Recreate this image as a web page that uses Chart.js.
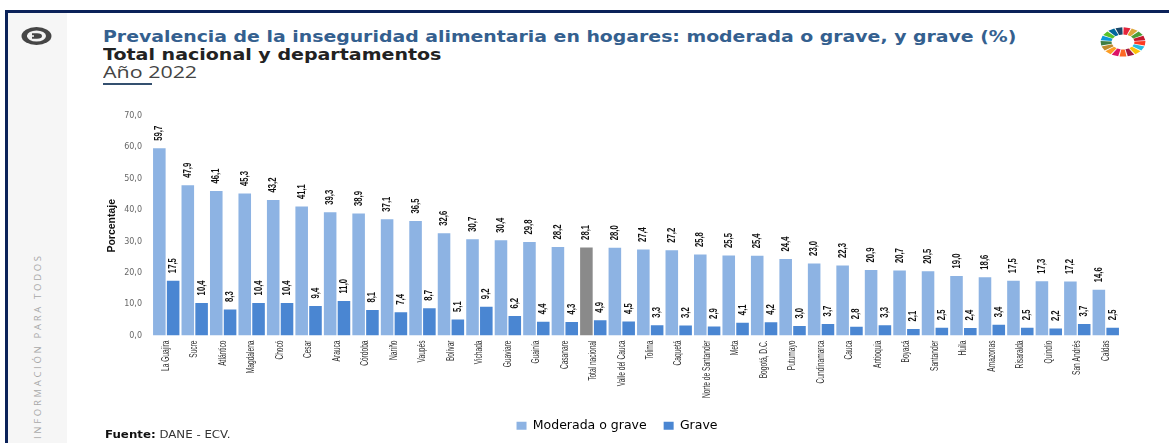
<!DOCTYPE html>
<html lang="es">
<head>
<meta charset="utf-8">
<title>Inseguridad alimentaria 2022</title>
<script src="https://cdn.jsdelivr.net/npm/chart.js@4"></script>
<style>
  html, body { margin: 0; padding: 0; background: #fff; }
  body { position: relative; width: 1169px; height: 443px; overflow: hidden; }
  .abs { position: absolute; white-space: nowrap; }
  .wide { transform-origin: 0 50%; }
  #frameTop { left: 5px; top: 10px; width: 1164px; height: 3px; background: #0b2259; }
  #frameLeft { left: 5px; top: 10px; width: 3px; height: 433px; background: #0b2259; }
  #sidebar { left: 8px; top: 13px; width: 59px; height: 430px; background: #f6f6f6; }
  #logo { left: 21px; top: 27px; }
  #motto { left: 37px; top: 439px; transform-origin: 0 0; transform: rotate(-90deg) translateY(-50%);
    font: 9.5px "Open Sans", sans-serif; letter-spacing: 2.7px; color: #a8a8a8; }
  #title { left: 103px; top: 28px; font: bold 15.6px "DejaVu Sans", sans-serif; color: #34608f; transform: scaleX(1.21); }
  #subtitle { left: 103px; top: 46px; font: bold 15.6px "DejaVu Sans", sans-serif; color: #222; transform: scaleX(1.22); }
  #year { left: 103px; top: 60px; font: 17px "Open Sans", sans-serif; color: #444; transform: scaleX(1.26); }
  #yearLine { left: 103px; top: 83px; width: 49px; height: 2px; background: #34506f; }
  #source { left: 105px; top: 429px; font: 10px "DejaVu Sans", sans-serif; color: #333; transform: scaleX(1.18); }
  #source b { color: #111; }
  #wheel { left: 1100px; top: 27px; }
  #wrap { left: 100px; top: 100px; width: 1034px; height: 342px; }
</style>
</head>
<body>
<div class="abs" id="frameTop"></div>
<div class="abs" id="frameLeft"></div>
<div class="abs" id="sidebar"></div>
<svg class="abs" id="logo" width="31" height="18" viewBox="0 0 31 18">
  <ellipse cx="15.5" cy="9" rx="15" ry="9" fill="#454545"/>
  <ellipse cx="15.5" cy="9" rx="9.5" ry="5.6" fill="#f2f2f2"/>
  <path d="M11 6.2 h5 a5 2.8 0 0 1 0 5.6 h-5 z" fill="#454545"/>
  <path d="M6 9 h7" stroke="#f2f2f2" stroke-width="1.6"/>
</svg>
<div class="abs" id="motto">INFORMACIÓN PARA TODOS</div>
<div class="abs wide" id="title">Prevalencia de la inseguridad alimentaria en hogares: moderada o grave, y grave (%)</div>
<div class="abs wide" id="subtitle">Total nacional y departamentos</div>
<div class="abs wide" id="year">Año 2022</div>
<div class="abs" id="yearLine"></div>
<svg class="abs" id="wheel" width="46" height="30" viewBox="-23 -23 46 46" preserveAspectRatio="none"></svg>
<div class="abs" id="wrap"><canvas id="chart"></canvas></div>
<div class="abs wide" id="source"><b>Fuente:</b> DANE - ECV.</div>

<script>
const categories = ['La Guajira', 'Sucre', 'Atlántico', 'Magdalena', 'Chocó', 'Cesar', 'Arauca', 'Córdoba', 'Nariño', 'Vaupés', 'Bolívar', 'Vichada', 'Guaviare', 'Guainía', 'Casanare', 'Total nacional', 'Valle del Cauca', 'Tolima', 'Caquetá', 'Norte de Santander', 'Meta', 'Bogotá, D.C.', 'Putumayo', 'Cundinamarca', 'Cauca', 'Antioquia', 'Boyacá', 'Santander', 'Huila', 'Amazonas', 'Risaralda', 'Quindío', 'San Andrés', 'Caldas'];
const moderadaGrave = [59.7, 47.9, 46.1, 45.3, 43.2, 41.1, 39.3, 38.9, 37.1, 36.5, 32.6, 30.7, 30.4, 29.8, 28.2, 28.1, 28.0, 27.4, 27.2, 25.8, 25.5, 25.4, 24.4, 23.0, 22.3, 20.9, 20.7, 20.5, 19.0, 18.6, 17.5, 17.3, 17.2, 14.6];
const grave = [17.5, 10.4, 8.3, 10.4, 10.4, 9.4, 11.0, 8.1, 7.4, 8.7, 5.1, 9.2, 6.2, 4.4, 4.3, 4.9, 4.5, 3.3, 3.2, 2.9, 4.1, 4.2, 3.0, 3.7, 2.8, 3.3, 2.1, 2.5, 2.4, 3.4, 2.5, 2.2, 3.7, 2.5];
const wheelColors = ['#e5243b', '#dda63a', '#4c9f38', '#c5192d', '#ff3a21', '#26bde2', '#fcc30b', '#a21942', '#fd6925', '#dd1367', '#fd9d24', '#bf8b2e', '#3f7e44', '#0a97d9', '#56c02b', '#00689d', '#19486a'];

const fmt = v => v.toFixed(1).replace('.', ',');
const LIGHT = '#8db3e3';
const DARK = '#4a86d2';
const TOTAL = '#8a8a8a';
const NARROW = '"Liberation Sans", sans-serif';

// the little SDG wheel, one wedge per colour
const svgNs = 'http://www.w3.org/2000/svg';
const wheel = document.getElementById('wheel');
wheelColors.forEach((c, i) => {
  const step = 2 * Math.PI / wheelColors.length;
  const a0 = i * step - Math.PI / 2 + 0.03, a1 = a0 + step - 0.06;
  const pt = (r, a) => `${(r * Math.cos(a)).toFixed(2)} ${(r * Math.sin(a)).toFixed(2)}`;
  const p = document.createElementNS(svgNs, 'path');
  p.setAttribute('d', `M${pt(11.5, a0)} L${pt(22.5, a0)} L${pt(22.5, a1)} L${pt(11.5, a1)} Z`);
  p.setAttribute('fill', c);
  wheel.appendChild(p);
});

// draw vertical condensed text; the reference uses a narrow face we don't have
function narrowText(ctx, text, x, y, font, color, squeeze, align) {
  ctx.save();
  ctx.translate(x, y);
  ctx.rotate(-Math.PI / 2);
  ctx.scale(squeeze, 1);
  ctx.font = font;
  ctx.fillStyle = color;
  ctx.textAlign = align;
  ctx.textBaseline = 'middle';
  ctx.fillText(text, 0, 0);
  ctx.restore();
}

const barLabels = {
  id: 'barLabels',
  afterDatasetsDraw(chart) {
    const ctx = chart.ctx;
    chart.data.datasets.forEach((ds, di) => {
      chart.getDatasetMeta(di).data.forEach((bar, i) => {
        narrowText(ctx, fmt(ds.data[i]), bar.x, bar.y - 7.5, 'bold 11px ' + NARROW, '#111', 0.7, 'left');
      });
    });
    // category names, placed from the x scale
    const xScale = chart.scales.x;
    categories.forEach((name, i) => {
      narrowText(ctx, name, xScale.getPixelForTick(i), xScale.top + 5, '10px ' + NARROW, '#333', 0.66, 'right');
    });
  }
};

new Chart(document.getElementById('chart'), {
  type: 'bar',
  data: {
    labels: categories,
    datasets: [
      {
        label: 'Moderada o grave',
        data: moderadaGrave,
        backgroundColor: categories.map(c => c === 'Total nacional' ? TOTAL : LIGHT)
      },
      { label: 'Grave', data: grave, backgroundColor: DARK }
    ]
  },
  options: {
    responsive: true,
    maintainAspectRatio: false,
    animation: false,
    layout: { padding: { top: 16, right: 14, bottom: 0, left: 14 } },
    datasets: { bar: { categoryPercentage: 0.97, barPercentage: 0.91 } },
    plugins: {
      tooltip: { enabled: false },
      legend: {
        position: 'bottom',
        labels: {
          boxWidth: 10,
          boxHeight: 8,
          padding: 17,
          color: '#444',
          font: { family: '"DejaVu Sans", sans-serif', size: 12.5 },
          generateLabels: () => [
            { text: 'Moderada o grave', fillStyle: LIGHT, strokeStyle: LIGHT, lineWidth: 0, datasetIndex: 0 },
            { text: 'Grave', fillStyle: DARK, strokeStyle: DARK, lineWidth: 0, datasetIndex: 1 }
          ]
        }
      }
    },
    scales: {
      x: {
        grid: { display: false },
        border: { display: false },
        afterFit: s => { s.height = 67; },
        ticks: { display: false, autoSkip: false }
      },
      y: {
        min: 0,
        max: 70,
        grid: { display: false },
        border: { display: false },
        afterFit: s => { s.width = 38; },
        title: {
          display: true,
          text: 'Porcentaje',
          color: '#111',
          padding: { top: -8, bottom: 0 },
          font: { family: NARROW, size: 10.5, weight: 'bold' }
        },
        ticks: {
          stepSize: 10,
          padding: 2,
          color: '#666',
          callback: v => fmt(v),
          font: { family: '"DejaVu Sans", sans-serif', size: 8 }
        }
      }
    }
  },
  plugins: [barLabels]
});
</script>
</body>
</html>
